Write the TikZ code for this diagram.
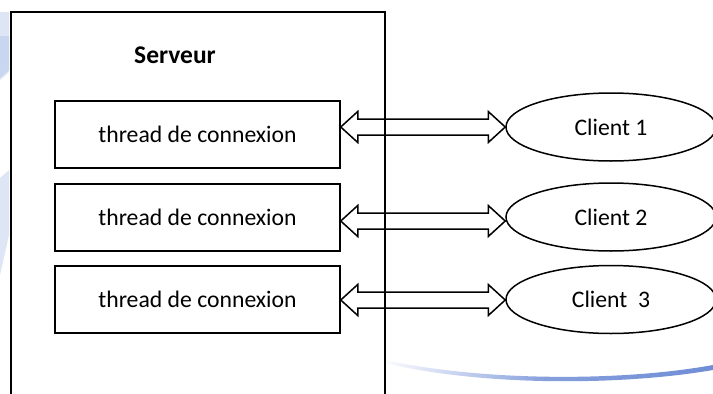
\documentclass[tikz,border=0pt]{standalone}
\usepackage{fontspec}
\setmainfont{Carlito}
\usetikzlibrary{shapes.geometric,calc}
\definecolor{deco}{RGB}{112,142,214}
\definecolor{decolight}{RGB}{222,230,246}
\definecolor{decomid}{RGB}{200,214,240}
\begin{document}
\begin{tikzpicture}[x=1pt,y=-1pt,
  txt/.style={font=\fontsize{23.7}{28}\selectfont},
  threadbox/.style={draw, line width=1.5pt, minimum width=285pt, minimum height=67pt, inner sep=0pt, txt},
  client/.style={draw, ellipse, line width=1.5pt, minimum width=210pt, minimum height=68pt, inner sep=0pt, txt},
  dblarr/.style={draw, line width=1.5pt, line join=miter}]
\useasboundingbox (0,0) rectangle (713,394);
\clip (0,0) rectangle (713,394);
\fill[white] (0,0) rectangle (713,394);
% faint background decoration
\fill[decolight] (0,12) -- (9,12) -- (9,72) -- (0,80) -- cycle;
\fill[decomid] (0,36) -- (9,36) -- (9,70) -- (0,78) -- cycle;
\fill[decolight] (0,178) -- (9,170) -- (9,235) -- (0,275) -- cycle;
\begin{scope}
  \clip (385,360) .. controls (480,381) and (620,382) .. (713,365) -- (713,370) .. controls (620,386) and (480,386) .. (385,363) -- cycle;
  \shade[left color=white, right color=deco, middle color=deco!85] (380,355) rectangle (713,390);
\end{scope}
% server
\node[draw, line width=1.5pt, minimum width=374pt, minimum height=400pt, inner sep=0pt, anchor=north west] (srv) at (10,11) {};
\node[font=\fontsize{25.5}{30}\selectfont\bfseries] (srvlbl) at (175,55) {Serveur};
% threads
\node[threadbox] (t1) at (197.5,134.5) {thread de connexion};
\node[threadbox] (t2) at (197.5,217.5) {thread de connexion};
\node[threadbox] (t3) at (197.5,299.5) {thread de connexion};
% clients
\node[client] (c1) at (611,127) {Client 1};
\node[client] (c2) at (611,217) {Client 2};
\node[client] (c3) at (611,299.5) {Client~~3};
% arrow anchors
\coordinate (L1) at (t1.east |- 0,127);
\coordinate (R1) at (c1.west |- 0,127);
\coordinate (L2) at (t2.east |- 0,221);
\coordinate (R2) at (c2.west |- 0,221);
\coordinate (L3) at (t3.east |- 0,300);
\coordinate (R3) at (c3.west |- 0,300);
\foreach \i in {1,2,3}{
  \draw[dblarr] (L\i) -- ++(17,-15.5) -- ++(0,7.5) -- ($(R\i)+(-17,-8)$) -- ++(0,-7.5) -- (R\i)
    -- ++(-17,15.5) -- ++(0,-7.5) -- ($(L\i)+(17,8)$) -- ++(0,7.5) -- cycle;
}
\end{tikzpicture}
\end{document}
